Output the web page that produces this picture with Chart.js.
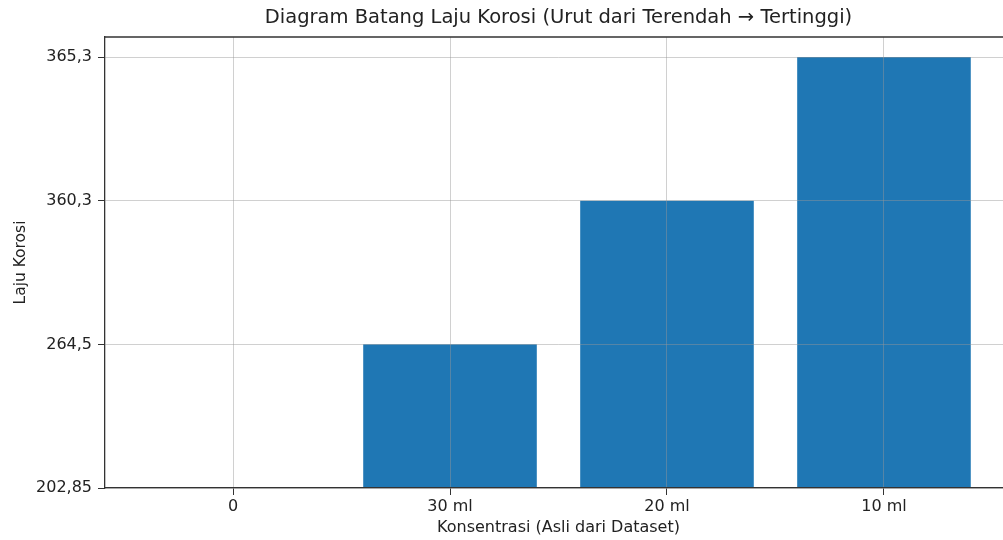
<!DOCTYPE html>
<html lang="id">
<head>
    <meta charset="UTF-8">
    <title>Diagram Batang Laju Korosi</title>
    <script src="https://cdn.jsdelivr.net/npm/chart.js"></script>
    <style>
        html, body { margin: 0; padding: 0; background: #fff; overflow: hidden; }
        #wrap { width: 1012px; height: 540px; }
    </style>
</head>
<body>
    <div id="wrap"><canvas id="chart" width="1012" height="540"></canvas></div>
<script>
// categories on the x axis, in plotted order
const categories = ['0', '30 ml', '20 ml', '10 ml'];
// y axis is categorical in the source: tick labels bottom -> top
const yTickLabels = ['202,85', '264,5', '360,3', '365,3'];
// laju korosi per category (read as the y tick each bar reaches)
const lajuKorosi = ['202,85', '264,5', '360,3', '365,3'];

const textColor = '#222';
const fontFamily = "'DejaVu Sans', sans-serif";

const barData = categories.map((c, i) => ({ x: i, y: yTickLabels.indexOf(lajuKorosi[i]) }));

// top + right spines (matplotlib box)
const frame = {
    id: 'frame',
    afterDraw(chart) {
        const { ctx, chartArea: a } = chart;
        ctx.save();
        ctx.strokeStyle = '#333';
        ctx.lineWidth = 1.3;
        ctx.beginPath();
        ctx.moveTo(a.left, a.top);
        ctx.lineTo(a.right, a.top);
        ctx.lineTo(a.right, a.bottom);
        ctx.stroke();
        ctx.restore();
    }
};

new Chart(document.getElementById('chart'), {
    type: 'bar',
    data: {
        datasets: [{
            label: 'Laju Korosi',
            data: barData,
            backgroundColor: '#1f77b4',
            borderWidth: 0,
            barPercentage: 0.8,
            categoryPercentage: 1.0
        }]
    },
    options: {
        responsive: false,
        animation: false,
        devicePixelRatio: 1,
        layout: { padding: 0 },
        plugins: {
            legend: { display: false },
            tooltip: { enabled: false },
            title: {
                display: true,
                fullSize: false,
                text: 'Diagram Batang Laju Korosi (Urut dari Terendah \u2192 Tertinggi)',
                color: textColor,
                font: { family: fontFamily, size: 19.5, weight: 'normal' },
                padding: { top: 6.3, bottom: 7.3 }
            }
        },
        scales: {
            x: {
                type: 'linear',
                offset: false,
                min: -0.59,
                max: 3.59,
                afterBuildTicks: s => { s.ticks = categories.map((c, i) => ({ value: i })); },
                afterFit: s => { s.height = 52; },
                ticks: {
                    callback: v => categories[v],
                    color: textColor,
                    font: { family: fontFamily, size: 16 },
                    padding: 2,
                    maxRotation: 0
                },
                grid: {
                    z: 1,
                    offset: false,
                    color: 'rgba(150,150,150,0.45)',
                    lineWidth: 1,
                    tickLength: 7,
                    tickColor: '#333'
                },
                border: { display: true, color: '#333', width: 1.3, z: 2 },
                title: {
                    display: true,
                    text: 'Konsentrasi (Asli dari Dataset)',
                    color: textColor,
                    font: { family: fontFamily, size: 16 },
                    padding: { top: 0, bottom: 3 }
                }
            },
            y: {
                type: 'linear',
                min: 0,
                max: 3.14,
                afterBuildTicks: s => { s.ticks = yTickLabels.map((t, i) => ({ value: i })); },
                afterFit: s => { s.width = 105; },
                ticks: {
                    callback: v => yTickLabels[v],
                    color: textColor,
                    font: { family: fontFamily, size: 16 },
                    padding: 6
                },
                grid: {
                    z: 1,
                    color: 'rgba(150,150,150,0.45)',
                    lineWidth: 1,
                    tickLength: 7,
                    tickColor: '#333'
                },
                border: { display: true, color: '#333', width: 1.3, z: 2 },
                title: {
                    display: true,
                    text: 'Laju Korosi',
                    color: textColor,
                    font: { family: fontFamily, size: 15.5 },
                    padding: { top: 12, bottom: 0 }
                }
            }
        }
    },
    plugins: [frame]
});
</script>
</body>
</html>
